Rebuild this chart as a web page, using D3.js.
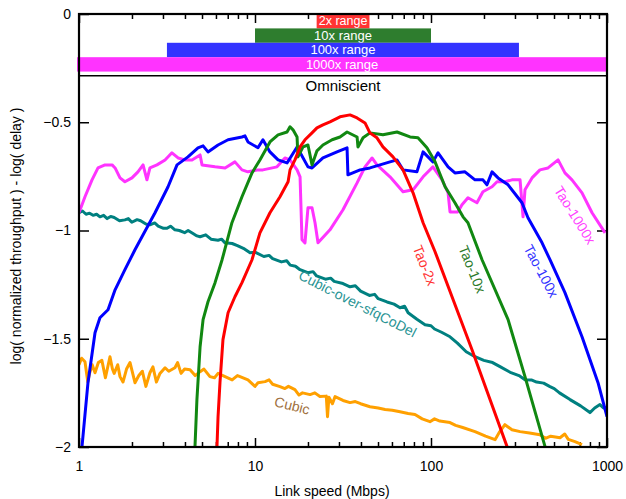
<!DOCTYPE html>
<html><head><meta charset="utf-8">
<script src="https://cdn.jsdelivr.net/npm/d3@7"></script>
<style>body{margin:0;background:#fff} text{font-family:"Liberation Sans",Arial,sans-serif}</style>
</head><body><svg id="c" width="626" height="499"></svg>
<script>
// ---------- data ----------
const xTicks = [1, 10, 100, 1000];
const yTicks = [0, -0.5, -1, -1.5, -2];
const rangeNames = ["2x range", "10x range", "100x range", "1000x range"];
const rangeLo = [22.4, 10, 3.16, 0.975];
const rangeHi = [44.7, 100, 316, 1000];
const rangeTop = [0, -0.0665, -0.133, -0.1995];
const rangeBot = [-0.0665, -0.133, -0.1995, -0.266];
const dividerY = -0.285;
const omniscientY = -0.337;

// series: [log10(Mbps), value]
const sfqCoDel = [[0,-0.918],[0.02,-0.91],[0.04,-0.925],[0.06,-0.92],[0.08,-0.93],[0.1,-0.925],[0.119,-0.937],[0.14,-0.93],[0.16,-0.945],[0.18,-0.935],[0.2,-0.94],[0.23,-0.955],[0.261,-0.951],[0.28,-0.945],[0.3,-0.962],[0.33,-0.95],[0.35,-0.955],[0.38,-0.97],[0.403,-0.974],[0.43,-0.965],[0.45,-0.98],[0.48,-0.99],[0.5,-0.99],[0.52,-0.98],[0.545,-0.997],[0.57,-1.0],[0.6,-1.01],[0.62,-1.0],[0.65,-1.015],[0.67,-1.025],[0.688,-1.029],[0.72,-1.02],[0.75,-1.04],[0.79,-1.045],[0.81,-1.04],[0.83,-1.057],[0.87,-1.06],[0.9,-1.07],[0.94,-1.085],[0.972,-1.103],[1.0,-1.1],[1.05,-1.12],[1.08,-1.115],[1.1,-1.13],[1.15,-1.145],[1.18,-1.14],[1.2,-1.16],[1.23,-1.165],[1.256,-1.181],[1.3,-1.195],[1.33,-1.19],[1.35,-1.21],[1.4,-1.225],[1.43,-1.22],[1.45,-1.235],[1.5,-1.245],[1.54,-1.26],[1.57,-1.255],[1.6,-1.28],[1.65,-1.3],[1.68,-1.295],[1.7,-1.315],[1.75,-1.33],[1.79,-1.34],[1.824,-1.357],[1.85,-1.35],[1.87,-1.38],[1.92,-1.41],[1.966,-1.435],[2.0,-1.44],[2.02,-1.455],[2.06,-1.47],[2.108,-1.491],[2.15,-1.52],[2.2,-1.56],[2.25,-1.583],[2.3,-1.6],[2.35,-1.61],[2.392,-1.629],[2.45,-1.655],[2.5,-1.67],[2.534,-1.689],[2.57,-1.69],[2.6,-1.7],[2.64,-1.705],[2.676,-1.721],[2.7,-1.73],[2.73,-1.75],[2.79,-1.781],[2.85,-1.81],[2.903,-1.841],[2.93,-1.82],[2.96,-1.804],[2.98,-1.82],[3.0,-1.818]];
const cubic = [[0,-1.62],[0.015,-1.59],[0.034,-1.606],[0.05,-1.7],[0.06,-1.66],[0.075,-1.62],[0.091,-1.657],[0.11,-1.61],[0.13,-1.6],[0.15,-1.68],[0.176,-1.583],[0.19,-1.64],[0.2,-1.66],[0.22,-1.62],[0.233,-1.675],[0.25,-1.7],[0.27,-1.64],[0.29,-1.61],[0.318,-1.703],[0.34,-1.67],[0.36,-1.65],[0.38,-1.72],[0.403,-1.657],[0.42,-1.63],[0.44,-1.7],[0.46,-1.66],[0.489,-1.634],[0.51,-1.65],[0.545,-1.634],[0.56,-1.61],[0.58,-1.66],[0.6,-1.64],[0.631,-1.643],[0.66,-1.67],[0.688,-1.652],[0.71,-1.64],[0.744,-1.675],[0.77,-1.68],[0.79,-1.66],[0.83,-1.675],[0.87,-1.69],[0.9,-1.67],[0.915,-1.675],[0.96,-1.69],[1.0,-1.72],[1.017,-1.703],[1.057,-1.698],[1.08,-1.69],[1.1,-1.71],[1.142,-1.721],[1.17,-1.73],[1.19,-1.72],[1.227,-1.735],[1.25,-1.76],[1.27,-1.75],[1.313,-1.758],[1.34,-1.75],[1.369,-1.767],[1.405,-1.765],[1.412,-1.86],[1.42,-1.77],[1.44,-1.8],[1.455,-1.767],[1.5,-1.785],[1.54,-1.795],[1.57,-1.79],[1.6,-1.8],[1.653,-1.814],[1.7,-1.82],[1.739,-1.827],[1.78,-1.83],[1.824,-1.837],[1.87,-1.845],[1.909,-1.85],[1.95,-1.87],[1.994,-1.883],[2.02,-1.87],[2.05,-1.88],[2.108,-1.887],[2.14,-1.9],[2.18,-1.91],[2.25,-1.929],[2.31,-1.95],[2.364,-1.966],[2.39,-1.93],[2.42,-1.897],[2.46,-1.92],[2.506,-1.929],[2.56,-1.935],[2.619,-1.943],[2.65,-1.96],[2.68,-1.95],[2.733,-1.957],[2.76,-1.94],[2.78,-1.965],[2.818,-1.975],[2.858,-1.989]];
const tao100x = [[0.017,-1.998],[0.051,-1.703],[0.091,-1.472],[0.119,-1.403],[0.165,-1.366],[0.205,-1.274],[0.261,-1.181],[0.318,-1.089],[0.358,-1.029],[0.432,-0.918],[0.506,-0.798],[0.557,-0.697],[0.619,-0.66],[0.676,-0.618],[0.705,-0.609],[0.733,-0.637],[0.79,-0.605],[0.847,-0.581],[0.926,-0.568],[0.943,-0.563],[0.96,-0.591],[1.017,-0.618],[1.045,-0.581],[1.085,-0.637],[1.131,-0.674],[1.182,-0.688],[1.239,-0.614],[1.301,-0.706],[1.324,-0.711],[1.386,-0.665],[1.466,-0.637],[1.523,-0.618],[1.528,-0.743],[1.597,-0.72],[1.653,-0.711],[1.71,-0.697],[1.767,-0.683],[1.807,-0.674],[1.841,-0.72],[1.92,-0.729],[1.955,-0.637],[2.011,-0.683],[2.04,-0.641],[2.097,-0.706],[2.136,-0.734],[2.193,-0.729],[2.25,-0.766],[2.295,-0.766],[2.318,-0.789],[2.347,-0.729],[2.381,-0.757],[2.438,-0.789],[2.517,-0.872],[2.551,-0.941],[2.631,-1.057],[2.676,-1.135],[2.761,-1.287],[2.858,-1.491],[2.949,-1.703],[3.0,-1.86]];
const tao10x = [[0.659,-1.998],[0.67,-1.781],[0.688,-1.537],[0.705,-1.412],[0.733,-1.329],[0.773,-1.241],[0.813,-1.135],[0.869,-0.964],[0.926,-0.844],[0.983,-0.734],[1.028,-0.674],[1.085,-0.591],[1.131,-0.558],[1.182,-0.545],[1.199,-0.521],[1.216,-0.535],[1.239,-0.568],[1.244,-0.66],[1.273,-0.614],[1.301,-0.605],[1.324,-0.697],[1.352,-0.632],[1.386,-0.605],[1.438,-0.581],[1.483,-0.568],[1.523,-0.545],[1.58,-0.568],[1.585,-0.614],[1.614,-0.572],[1.653,-0.549],[1.727,-0.558],[1.807,-0.545],[1.881,-0.568],[1.926,-0.572],[1.977,-0.618],[2.023,-0.683],[2.08,-0.798],[2.136,-0.872],[2.182,-0.937],[2.21,-0.964],[2.29,-1.135],[2.438,-1.412],[2.534,-1.675],[2.648,-1.998]];
const tao2x = [[0.784,-1.998],[0.79,-1.86],[0.801,-1.703],[0.818,-1.504],[0.847,-1.38],[0.886,-1.306],[0.926,-1.241],[0.983,-1.135],[1.028,-1.011],[1.085,-0.918],[1.142,-0.844],[1.188,-0.775],[1.199,-0.72],[1.227,-0.674],[1.256,-0.614],[1.284,-0.581],[1.324,-0.549],[1.352,-0.526],[1.386,-0.512],[1.426,-0.498],[1.483,-0.475],[1.54,-0.466],[1.58,-0.48],[1.625,-0.503],[1.653,-0.549],[1.693,-0.572],[1.727,-0.614],[1.784,-0.66],[1.841,-0.72],[1.898,-0.826],[1.955,-0.964],[2.023,-1.098],[2.233,-1.551],[2.432,-1.998]];
const tao1000x = [[0,-0.918],[0.034,-0.844],[0.074,-0.766],[0.108,-0.711],[0.148,-0.697],[0.188,-0.697],[0.205,-0.711],[0.233,-0.757],[0.261,-0.775],[0.301,-0.757],[0.335,-0.729],[0.364,-0.697],[0.386,-0.766],[0.403,-0.711],[0.443,-0.697],[0.489,-0.674],[0.528,-0.641],[0.563,-0.665],[0.602,-0.674],[0.642,-0.674],[0.688,-0.651],[0.699,-0.697],[0.773,-0.706],[0.83,-0.711],[0.886,-0.683],[0.926,-0.72],[0.96,-0.729],[1.017,-0.72],[1.045,-0.72],[1.125,-0.706],[1.17,-0.665],[1.199,-0.674],[1.239,-0.72],[1.256,-0.752],[1.267,-1.043],[1.284,-1.057],[1.301,-0.895],[1.324,-0.895],[1.341,-0.964],[1.358,-1.057],[1.426,-0.997],[1.5,-0.904],[1.58,-0.78],[1.625,-0.706],[1.665,-0.665],[1.693,-0.697],[1.767,-0.752],[1.841,-0.821],[1.898,-0.812],[1.955,-0.752],[2.011,-0.706],[2.063,-0.766],[2.097,-0.826],[2.108,-0.914],[2.153,-0.914],[2.176,-0.881],[2.21,-0.849],[2.261,-0.872],[2.295,-0.821],[2.347,-0.798],[2.375,-0.775],[2.42,-0.775],[2.46,-0.766],[2.506,-0.766],[2.523,-0.937],[2.534,-0.812],[2.574,-0.757],[2.619,-0.72],[2.665,-0.711],[2.722,-0.674],[2.761,-0.734],[2.801,-0.766],[2.858,-0.826],[2.915,-0.918],[2.989,-1.011]];

const seriesNames = ["Cubic-over-sfqCoDel","Cubic","Tao-1000x","Tao-100x","Tao-10x","Tao-2x"];
const seriesData = [sfqCoDel, cubic, tao1000x, tao100x, tao10x, tao2x];
const seriesColors = ["#008080","#ffa000","#ff33ff","#0000ff","#118811","#ff0000"];
const seriesWidths = [3, 3, 3, 3, 3, 3];
const labelText = ["Cubic-over-sfqCoDel","Cubic","Tao-1000x","Tao-100x","Tao-10x","Tao-2x"];
const labelX = [38, 16.2, 648, 417, 169, 91];
const labelY = [-1.343, -1.814, -0.932, -1.19, -1.181, -1.163];
const labelAngle = [27, 14, 58, 62, 68, 68];
const labelColors = ["#2a9494","#a0703c","#ff44ff","#3333ff","#2a7a2a","#ff3333"];
const rangeColors = ["#ff3333","#2e7d2e","#3333ff","#ff33ff"];

// ---------- drawing ----------
const svg = d3.select("#c");
const L = 79, R = 607, T = 14, B = 447;
const x = d3.scaleLog().domain([1, 1000]).range([L, R]);
const y = d3.scaleLinear().domain([-2, 0]).range([B, T]);

svg.append("defs").append("clipPath").attr("id","clip")
  .append("rect").attr("x",L).attr("y",T).attr("width",R-L).attr("height",B-T);

const minor = [];
for (let d = 1; d < 1000; d *= 10) for (let k = 2; k <= 9; k++) minor.push(d*k);

function styleAxis(g){ g.select(".domain").remove(); g.selectAll("line").attr("stroke","#000").attr("stroke-width",1.5);
  g.selectAll("text").attr("font-size",14).attr("fill","#000").attr("font-family","Liberation Sans, Arial, sans-serif"); }

svg.append("g").attr("transform",`translate(0,${B})`)
  .call(d3.axisBottom(x).tickValues(xTicks).tickSize(-9).tickPadding(14).tickFormat(d3.format("d"))).call(styleAxis);
svg.append("g").attr("transform",`translate(0,${B})`)
  .call(d3.axisBottom(x).tickValues(minor).tickSize(-5).tickFormat("")).call(styleAxis);
svg.append("g").attr("transform",`translate(0,${T})`)
  .call(d3.axisTop(x).tickValues(xTicks).tickSize(-9).tickFormat("")).call(styleAxis);
svg.append("g").attr("transform",`translate(0,${T})`)
  .call(d3.axisTop(x).tickValues(minor).tickSize(-5).tickFormat("")).call(styleAxis);
svg.append("g").attr("transform",`translate(${L},0)`)
  .call(d3.axisLeft(y).tickValues(yTicks).tickSize(-10).tickPadding(8).tickFormat(d => d3.format("")(d))).call(styleAxis);
svg.append("g").attr("transform",`translate(${R},0)`)
  .call(d3.axisRight(y).tickValues(yTicks).tickSize(-10).tickFormat("")).call(styleAxis);

// range bars
const bars = svg.append("g");
rangeNames.forEach((n,i) => {
  const x0 = x(rangeLo[i]), x1 = Math.min(x(rangeHi[i]), R+1);
  bars.append("rect").attr("x",x0).attr("y",y(rangeTop[i])).attr("width",x1-x0)
    .attr("height",y(rangeBot[i])-y(rangeTop[i])).attr("fill",rangeColors[i]);
  bars.append("text").attr("x",(x0+x1)/2).attr("y",(y(rangeTop[i])+y(rangeBot[i]))/2+1)
    .attr("text-anchor","middle").attr("dominant-baseline","middle")
    .attr("font-size", i===0 ? 12.5 : 13).attr("fill","#fff").text(n);
});

svg.append("line").attr("x1",L).attr("x2",R).attr("y1",y(dividerY)).attr("y2",y(dividerY))
  .attr("stroke","#000").attr("stroke-width",1.5);
svg.append("text").attr("x",(L+R)/2).attr("y",y(omniscientY)).attr("text-anchor","middle")
  .attr("dominant-baseline","middle").attr("font-size",15).attr("fill","#000").text("Omniscient");

const line = d3.line().x(d => x(Math.pow(10,d[0]))).y(d => y(d[1]));
const lg = svg.append("g").attr("clip-path","url(#clip)");
seriesData.forEach((s,i) => {
  lg.append("path").attr("d", line(s)).attr("fill","none").attr("stroke",seriesColors[i])
    .attr("stroke-width",seriesWidths[i]).attr("stroke-linejoin","round");
});

labelText.forEach((t,i) => {
  svg.append("text").attr("transform",`translate(${x(labelX[i])},${y(labelY[i])}) rotate(${labelAngle[i]})`)
    .attr("text-anchor","middle").attr("dominant-baseline","middle").attr("font-size",14)
    .attr("fill",labelColors[i]).text(t);
});

svg.append("rect").attr("x",L).attr("y",T).attr("width",R-L).attr("height",B-T)
  .attr("fill","none").attr("stroke","#000").attr("stroke-width",2.2);

svg.append("text").attr("transform",`translate(17,236) rotate(-90)`).attr("text-anchor","middle")
  .attr("dominant-baseline","middle").attr("font-size",14).text("log( normalized throughput ) - log( delay )");
svg.append("text").attr("x",332).attr("y",492).attr("text-anchor","middle")
  .attr("dominant-baseline","middle").attr("font-size",14).text("Link speed (Mbps)");
</script></body></html>
